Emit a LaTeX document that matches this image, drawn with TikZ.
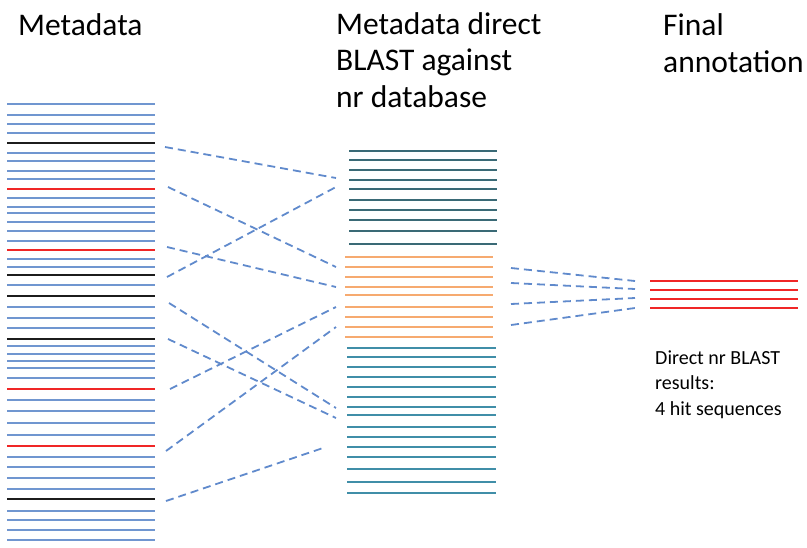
\documentclass[tikz,border=0pt]{standalone}
\usepackage{fontspec}
\setmainfont{Carlito}
\usetikzlibrary{positioning}

\definecolor{seqblue}{RGB}{112,150,208}
\definecolor{hitblue}{RGB}{96,138,204}
\definecolor{seqred}{RGB}{240,38,38}
\definecolor{seqblack}{RGB}{28,28,28}
\definecolor{dbdark}{RGB}{58,106,118}
\definecolor{dborange}{RGB}{246,170,112}
\definecolor{dbteal}{RGB}{64,142,168}

\begin{document}
\begin{tikzpicture}[x=1pt,y=-1pt,
            seq/.style = {line width=2pt},
            hit/.style = {hitblue,line width=1.8pt,dash pattern=on 8pt off 5pt},
            title/.style = {font=\fontsize{31.5}{36.5}\selectfont,
                anchor=base west,inner sep=0pt,align=left},
            note/.style = {font=\fontsize{20}{25.5}\selectfont,
                anchor=base west,inner sep=0pt,align=left}]
            \useasboundingbox (0,0) rectangle (807,547);
            % titles (base = last line)
            \node[title] (meta) at (18,35) {Metadata};
            \node[title] (blast) at (336,107) {Metadata direct\\BLAST against\\nr database};
            \node[title] (final) at (663,72) {Final\\annotation};
            % metadata sequences
            \foreach \y/\c in {104/seqblue,115/seqblue,124/seqblue,133/seqblue,
                143/seqblack,153/seqblue,161/seqblue,171/seqblue,179/seqblue,
                189/seqred,198/seqblue,207/seqblue,213/seqblue,222/seqblue,
                231/seqblue,241/seqblue,250/seqred,259/seqblue,267/seqblue,
                275/seqblack,285/seqblue,296/seqblack,307/seqblue,318/seqblue,
                328/seqblue,339/seqblack,346/seqblue,354/seqblue,361/seqblue,
                368/seqblue,378/seqblue,389/seqred,400/seqblue,411/seqblue,
                423/seqblue,435/seqblue,446/seqred,457/seqblue,467/seqblue,
                478/seqblue,489/seqblue,499/seqblack,511/seqblue,520/seqblue,
                530/seqblue,540/seqblue}
                \draw[seq,\c] (7,\y) -- (155,\y);
            % database sequences
            \foreach \y in {151,160,170,180,189,200,210,220,231,244}
                \draw[seq,dbdark] (349,\y) -- (497,\y);
            \foreach \y in {257,267,277,287,295,307,317,327,337}
                \draw[seq,dborange] (345,\y) -- (493,\y);
            \foreach \y in {348,357,367,377,387,397,407,415,427,437,447,457,469,482,493}
                \draw[seq,dbteal] (347,\y) -- (496,\y);
            % final hits
            \foreach \y in {281,290,299,308}
                \draw[seq,seqred,line width=1.6pt] (650,\y) -- (798,\y);
            % metadata to database
            \foreach \a/\b/\c/\d [count=\i] in {165/147/336/178,168/187/336/267,
                167/247/336/287,167/277/336/187,169/303/336/408,
                168/339/336/418,170/389/336/307,166/451/336/327,
                166/501/326/447} {
                \coordinate (m\i) at (\a,\b);
                \coordinate (d\i) at (\c,\d);
                \draw[hit] (m\i) -- (d\i);
            }
            % database to final
            \foreach \b/\d [count=\i] in {268/281,283/289,304/298,325/308} {
                \coordinate (o\i) at (511,\b);
                \coordinate (f\i) at (635,\d);
                \draw[hit] (o\i) -- (f\i);
            }
            \node[note] (res) at (655,415) {Direct nr BLAST\\results:\\4 hit sequences};
        \end{tikzpicture}
\end{document}
